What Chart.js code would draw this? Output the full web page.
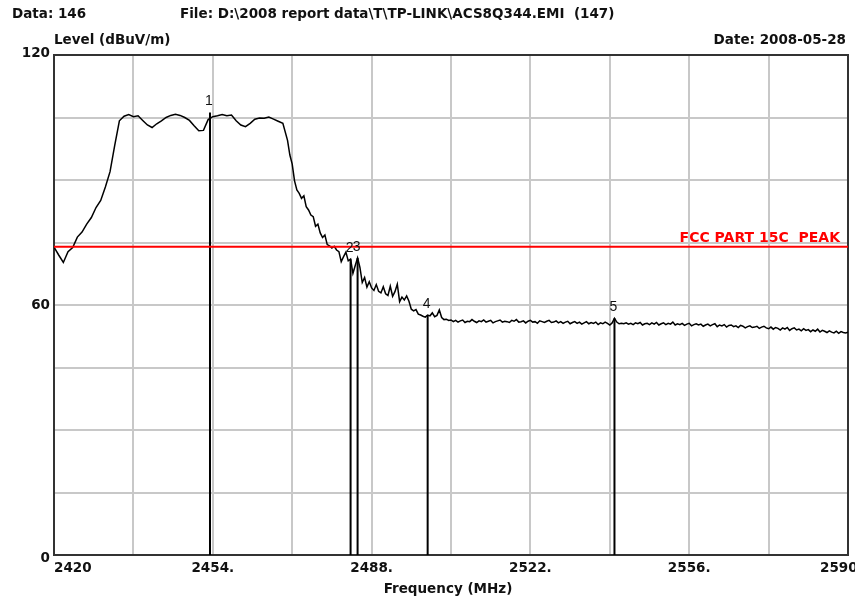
<!DOCTYPE html>
<html>
<head>
<meta charset="utf-8">
<script src="https://cdn.jsdelivr.net/npm/chart.js@4"></script>
<style>
  body { margin: 0; background: #fff; }
  #wrap { width: 855px; height: 601px; position: relative; }
</style>
</head>
<body>
<div id="wrap"><canvas id="emi"></canvas></div>
<script>
const freqs = [
  2420, 2421, 2422, 2423, 2424, 2425, 2426, 2427, 2428, 2429,
  2430, 2431, 2432, 2433, 2434, 2435, 2436, 2437, 2438, 2439,
  2440, 2441, 2442, 2443, 2444, 2445, 2446, 2447, 2448, 2449,
  2450, 2451, 2452, 2453, 2454, 2455, 2456, 2457, 2458, 2459,
  2460, 2461, 2462, 2463, 2464, 2465, 2466, 2467, 2468, 2469,
  2470, 2470.5, 2471, 2471.5, 2472, 2472.5, 2473, 2473.5, 2474, 2474.5,
  2475, 2475.5, 2476, 2476.5, 2477, 2477.5, 2478, 2478.5, 2479, 2479.5,
  2480, 2480.5, 2481, 2481.5, 2482, 2482.5, 2483, 2483.5, 2484, 2484.5,
  2485, 2485.5, 2486, 2486.5, 2487, 2487.5, 2488, 2488.5, 2489, 2489.5,
  2490, 2490.5, 2491, 2491.5, 2492, 2492.5, 2493, 2493.5, 2494, 2494.5,
  2495, 2495.5, 2496, 2496.5, 2497, 2497.5, 2498, 2498.5, 2499, 2499.5,
  2500, 2500.5, 2501, 2501.5, 2502, 2502.5, 2503, 2503.5, 2504, 2504.5,
  2505, 2505.5, 2506, 2506.5, 2507, 2507.5, 2508, 2508.5, 2509, 2509.5,
  2510, 2510.5, 2511, 2511.5, 2512, 2512.5, 2513, 2513.5, 2514, 2514.5,
  2515, 2515.5, 2516, 2516.5, 2517, 2517.5, 2518, 2518.5, 2519, 2519.5,
  2520, 2520.5, 2521, 2521.5, 2522, 2522.5, 2523, 2523.5, 2524, 2524.5,
  2525, 2525.5, 2526, 2526.5, 2527, 2527.5, 2528, 2528.5, 2529, 2529.5,
  2530, 2530.5, 2531, 2531.5, 2532, 2532.5, 2533, 2533.5, 2534, 2534.5,
  2535, 2535.5, 2536, 2536.5, 2537, 2537.5, 2538, 2538.5, 2539, 2539.5,
  2540, 2540.5, 2541, 2541.5, 2542, 2542.5, 2543, 2543.5, 2544, 2544.5,
  2545, 2545.5, 2546, 2546.5, 2547, 2547.5, 2548, 2548.5, 2549, 2549.5,
  2550, 2550.5, 2551, 2551.5, 2552, 2552.5, 2553, 2553.5, 2554, 2554.5,
  2555, 2555.5, 2556, 2556.5, 2557, 2557.5, 2558, 2558.5, 2559, 2559.5,
  2560, 2560.5, 2561, 2561.5, 2562, 2562.5, 2563, 2563.5, 2564, 2564.5,
  2565, 2565.5, 2566, 2566.5, 2567, 2567.5, 2568, 2568.5, 2569, 2569.5,
  2570, 2570.5, 2571, 2571.5, 2572, 2572.5, 2573, 2573.5, 2574, 2574.5,
  2575, 2575.5, 2576, 2576.5, 2577, 2577.5, 2578, 2578.5, 2579, 2579.5,
  2580, 2580.5, 2581, 2581.5, 2582, 2582.5, 2583, 2583.5, 2584, 2584.5,
  2585, 2585.5, 2586, 2586.5, 2587, 2587.5, 2588, 2588.5, 2589, 2589.5,
  2590
]
const levels = [
  73.9, 72.0, 70.2, 72.8, 73.8, 76.3, 77.5, 79.4, 81.0, 83.4,
  85.1, 88.3, 92.0, 98.3, 104.2, 105.3, 105.7, 105.2, 105.4, 104.3,
  103.2, 102.6, 103.5, 104.2, 105.0, 105.5, 105.8, 105.5, 105.0, 104.3,
  103.0, 101.8, 101.9, 104.5, 105.2, 105.4, 105.7, 105.4, 105.6, 104.2,
  103.2, 102.8, 103.6, 104.6, 104.9, 104.8, 105.1, 104.6, 104.1, 103.6,
  99.5, 96.0, 93.8, 89.8, 87.6, 86.8, 85.6, 86.2, 83.6, 82.8,
  81.6, 81.2, 78.9, 79.4, 77.3, 76.2, 76.8, 74.5, 74.2, 73.7,
  74.1, 73.2, 72.8, 70.4, 71.6, 72.7, 70.6, 71.0, 67.6, 69.5,
  71.3, 69.0, 65.4, 66.6, 64.3, 65.6, 64.1, 63.5, 64.9, 63.3,
  62.9, 64.4, 62.7, 62.3, 64.5, 62.1, 63.2, 65.0, 60.8, 61.9,
  61.2, 62.2, 60.9, 59.0, 58.6, 58.9, 57.8, 57.6, 57.3, 57.1,
  57.6, 57.4, 58.1, 57.2, 57.5, 58.8, 57.0, 56.5, 56.6, 56.3,
  56.4, 56.0, 56.3, 55.9, 56.2, 56.4, 55.8, 56.1, 56.0, 56.5,
  56.1, 55.8, 56.2, 56.0, 56.4, 55.9, 56.1, 56.3, 55.7, 56.0,
  56.2, 56.4, 55.9, 56.1, 56.0, 55.8, 56.3, 56.1, 56.5, 55.9,
  56.0, 56.2, 55.7, 56.1, 56.3, 55.9, 56.0, 55.6, 56.2, 56.0,
  55.8, 56.1, 56.3, 55.8, 55.9, 56.2, 55.7, 56.0, 55.6, 55.9,
  56.1, 55.5, 55.8, 56.0, 55.6, 55.9, 55.4, 55.7, 56.0, 55.5,
  55.8, 55.6, 55.9, 55.3, 55.7, 55.5, 55.9, 55.6, 55.2, 55.7,
  56.8, 55.9, 55.5, 55.6, 55.5, 55.7, 55.4, 55.6, 55.3, 55.7,
  55.5, 55.8, 55.2, 55.5, 55.6, 55.3, 55.7, 55.4, 55.8, 55.2,
  55.5, 55.7, 55.3, 55.6, 55.4, 55.9, 55.2, 55.5, 55.3, 55.6,
  55.1, 55.4, 55.6, 55.0, 55.3, 55.5, 55.2, 55.4, 54.9, 55.2,
  55.4, 55.0, 55.3, 55.5, 54.8, 55.2, 55.0, 55.3, 54.7, 55.1,
  55.2, 54.8, 55.0, 54.6, 55.1, 54.9, 54.5, 54.8, 55.0, 54.6,
  54.7, 54.9, 54.4, 54.7, 54.9, 54.5, 54.3, 54.7, 54.2, 54.6,
  54.4, 54.0, 54.5, 54.2, 54.6, 53.9, 54.3, 54.5, 54.0, 54.2,
  53.8, 54.3, 53.9, 54.1, 53.6, 54.0, 53.7, 54.2, 53.5, 53.9,
  53.7, 53.4, 53.8, 53.5, 53.3, 53.7, 53.2, 53.6, 53.4, 53.3,
  53.5
]

// markers 1..5
const markerNames = ["1", "2", "3", "4", "5"]
const markerFreqs = [2453.4, 2483.5, 2485.0, 2500.0, 2540.0]
const markerLevels = [106.2, 71.0, 71.3, 57.6, 56.8]

// limit line
const limitName = "FCC PART 15C  PEAK"
const limitLevel = 74

// tick labels
const yTickLabels = [0, 60, 120]
const xTickLabels = [2420, 2454, 2488, 2522, 2556, 2590]

const headerLeft = "Data: 146"
const headerFile = "File: D:\\2008 report data\\T\\TP-LINK\\ACS8Q344.EMI  (147)"
const headerDate = "Date: 2008-05-28"
const yTitle = "Level (dBuV/m)"
const xTitle = "Frequency (MHz)"

const boldFont = 'bold 13.5px "DejaVu Sans"'

// text, frame and marker numbers are painted here
const emiText = {
    id: 'emiText',
    beforeDatasetsDraw(chart) {
        const {ctx, chartArea} = chart
        ctx.save()
        ctx.strokeStyle = '#333'
        ctx.lineWidth = 2
        ctx.strokeRect(chartArea.left, chartArea.top, chartArea.right - chartArea.left, chartArea.bottom - chartArea.top)
        ctx.restore()
    },
    afterDraw(chart) {
        const {ctx, chartArea} = chart
        const xs = chart.scales.x
        const ys = chart.scales.y
        ctx.save()
        ctx.fillStyle = '#111'
        ctx.font = boldFont
        ctx.textBaseline = 'middle'

        ctx.textAlign = 'left'
        ctx.fillText(headerLeft, 12, 14)
        ctx.fillText(headerFile, 180, 14)
        ctx.fillText(yTitle, chartArea.left, 40)
        ctx.textAlign = 'right'
        ctx.fillText(headerDate, 846, 40)

        // y labels
        yTickLabels.forEach(v => {
            let py = ys.getPixelForValue(v)
            if (v == 120) py -= 2
            if (v == 0) py += 3
            ctx.fillText(String(v), chartArea.left - 4, py)
        })

        // x labels
        xTickLabels.forEach((v, i) => {
            const px = xs.getPixelForValue(v)
            if (i == 0) {
                ctx.textAlign = 'left'
                ctx.fillText(String(v), px, 568)
            } else if (i == xTickLabels.length - 1) {
                ctx.textAlign = 'left'
                ctx.fillText(String(v), px - 28, 568)
            } else {
                ctx.textAlign = 'center'
                ctx.fillText(v + ".", px, 568)
            }
        })
        ctx.textAlign = 'center'
        ctx.fillText(xTitle, 448, 589)

        // limit name
        ctx.fillStyle = '#ff0000'
        ctx.font = 'bold 14px "DejaVu Sans"'
        ctx.textAlign = 'right'
        ctx.textBaseline = 'alphabetic'
        ctx.fillText(limitName, 840, ys.getPixelForValue(limitLevel) - 5)

        // marker numbers
        ctx.fillStyle = '#111'
        ctx.font = '14px "Liberation Sans"'
        ctx.textAlign = 'center'
        ctx.textBaseline = 'middle'
        markerNames.forEach((name, i) => {
            const px = xs.getPixelForValue(markerFreqs[i])
            const py = ys.getPixelForValue(markerLevels[i])
            ctx.fillText(name, px - 1, py - 11)
        })
        ctx.restore()
    }
}

const trace = freqs.map((f, i) => ({x: f, y: levels[i]}))

const limitData = [{x: freqs[0], y: limitLevel}, {x: freqs[freqs.length - 1], y: limitLevel}]

const markerSets = markerFreqs.map((f, i) => ({
    data: [{x: f, y: 0}, {x: f, y: markerLevels[i]}],
    borderColor: '#000',
    borderWidth: 2,
    pointRadius: 0
}))

new Chart(document.getElementById('emi'), {
    type: 'line',
    data: {
        datasets: [
            {data: limitData, borderColor: '#ff0000', borderWidth: 2, pointRadius: 0},
            ...markerSets,
            {data: trace, borderColor: '#000', borderWidth: 1.5, pointRadius: 0, tension: 0}
        ]
    },
    plugins: [emiText],
    options: {
        responsive: true,
        maintainAspectRatio: false,
        animation: false,
        layout: {padding: {left: 54, top: 55, right: 7, bottom: 46}},
        plugins: {legend: {display: false}, tooltip: {enabled: false}},
        scales: {
            x: {
                type: 'linear',
                min: 2420,
                max: 2590,
                ticks: {display: false, stepSize: 17},
                grid: {color: '#c8c8c8', lineWidth: 2, drawTicks: false},
                border: {display: false}
            },
            y: {
                min: 0,
                max: 120,
                ticks: {display: false, stepSize: 15},
                grid: {color: '#c8c8c8', lineWidth: 2, drawTicks: false},
                border: {display: false}
            }
        }
    }
})
</script>
</body>
</html>
